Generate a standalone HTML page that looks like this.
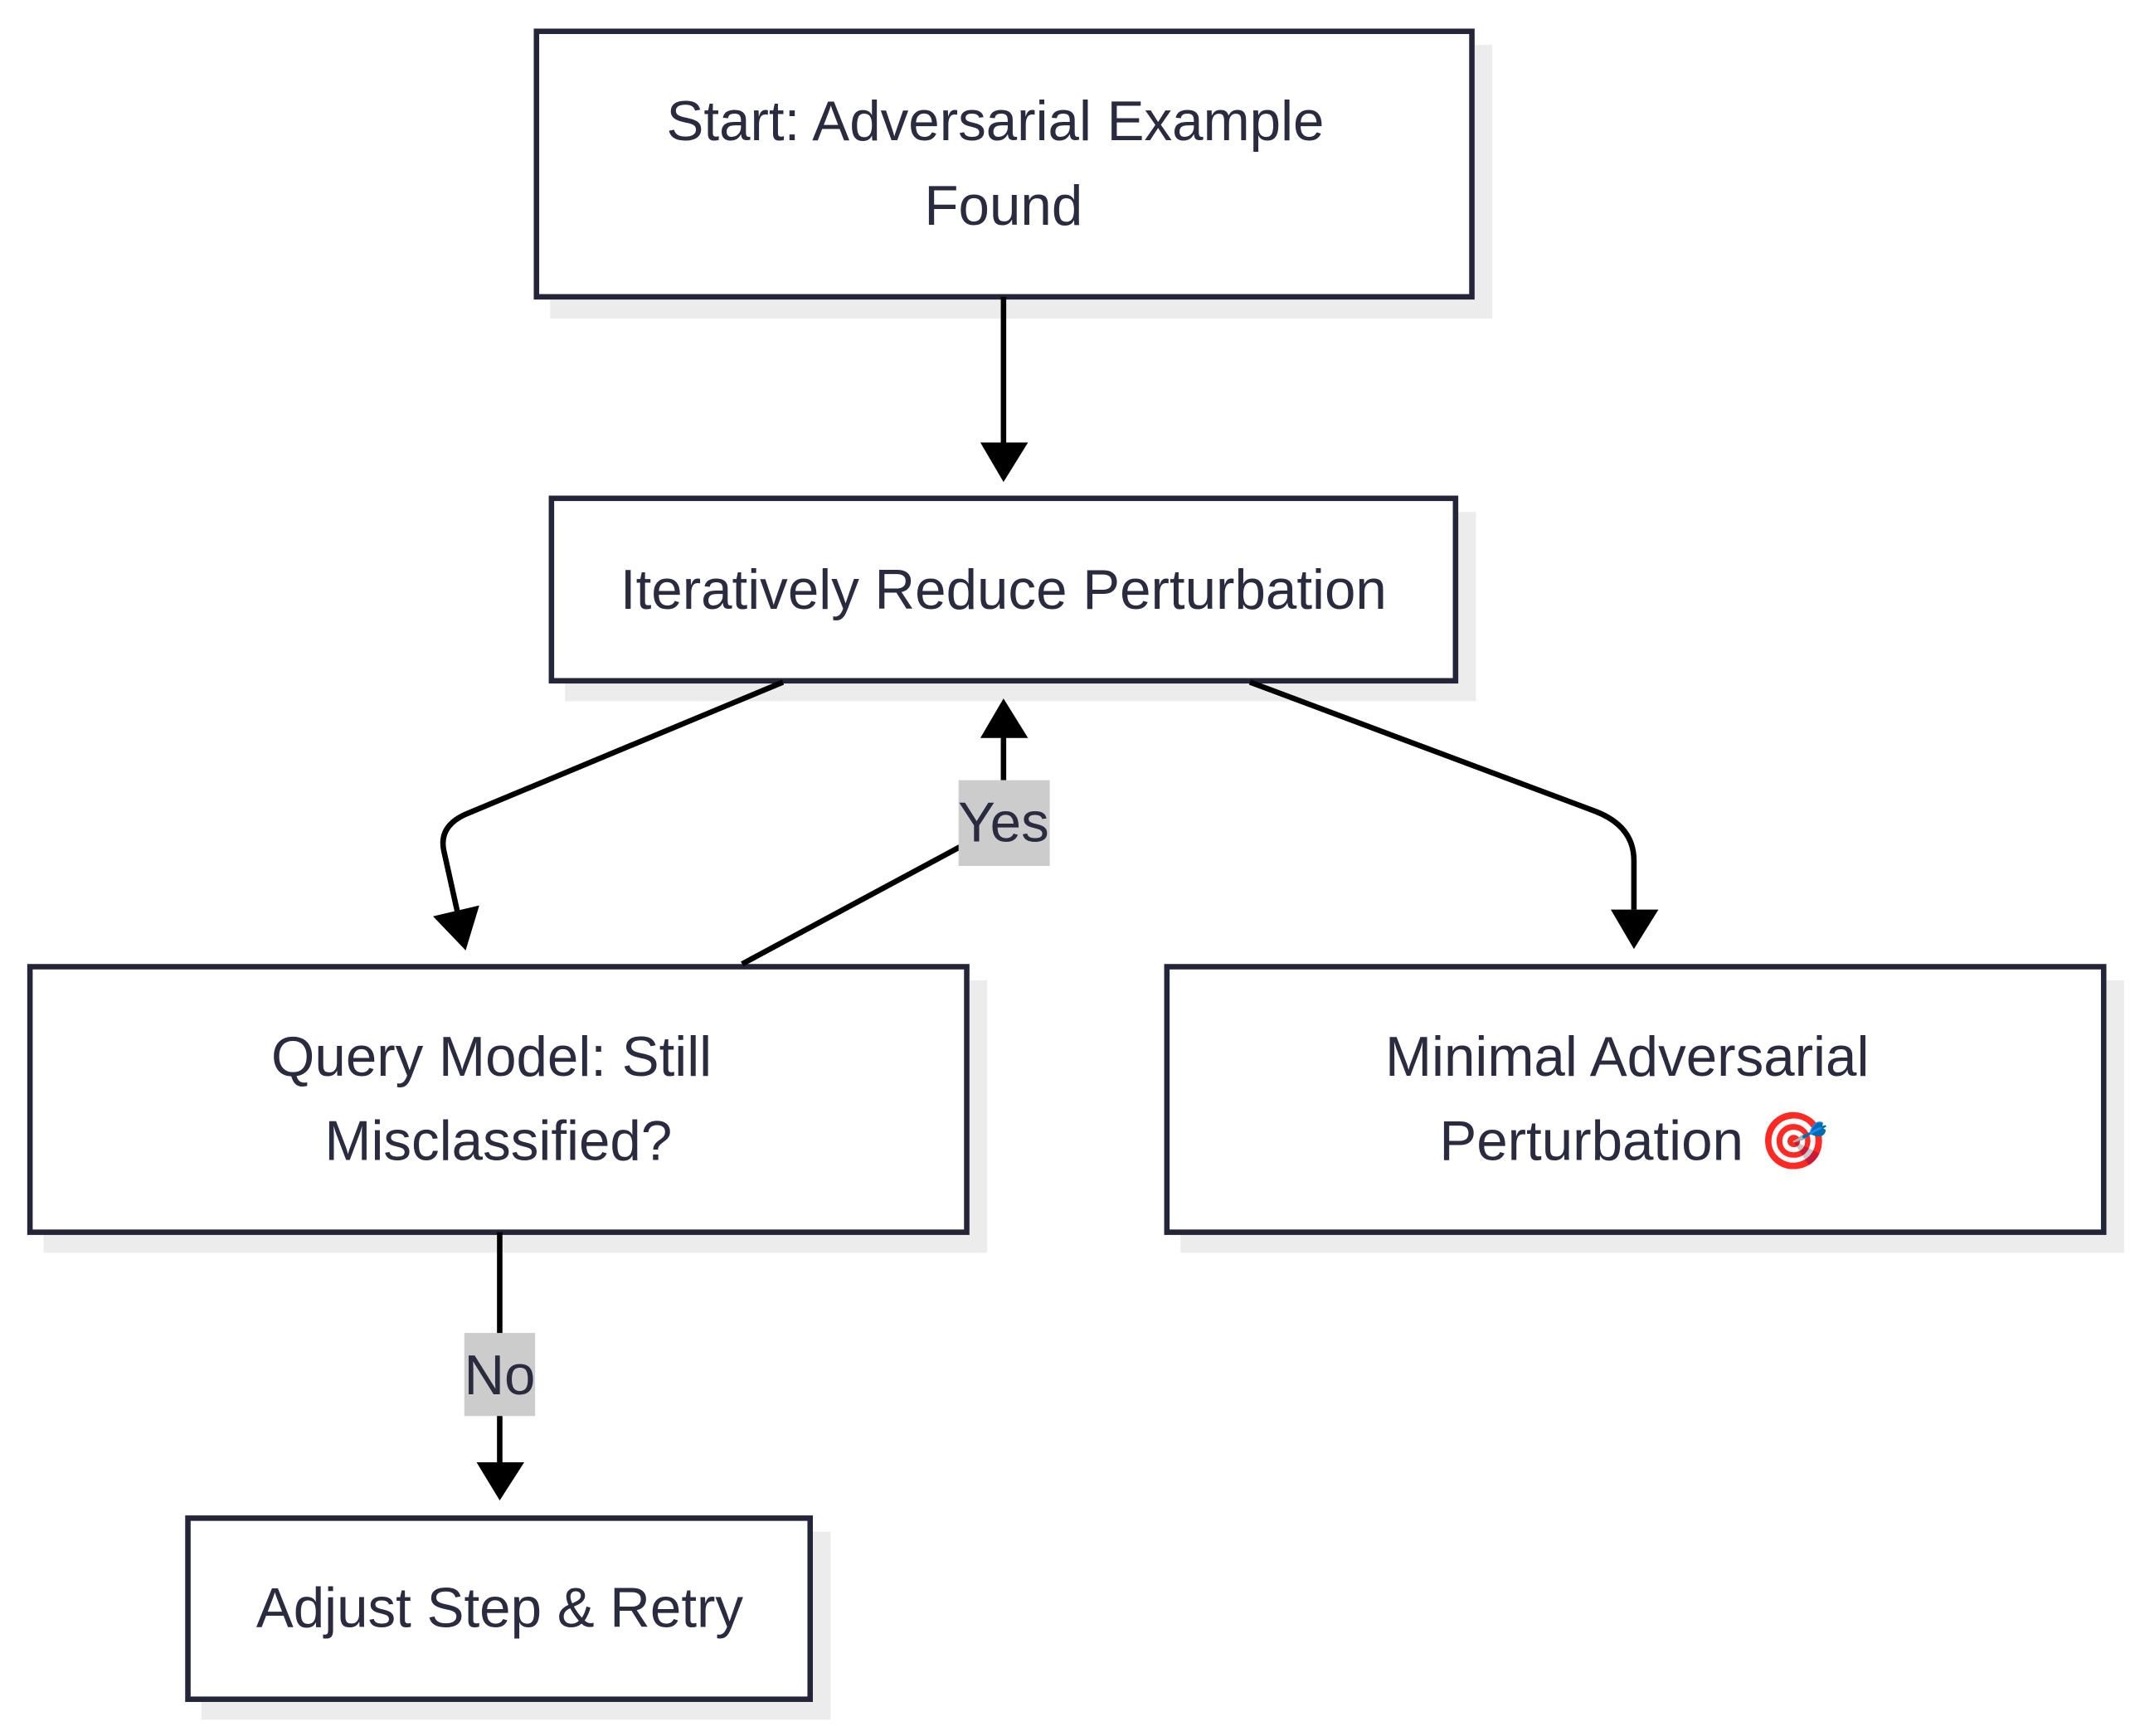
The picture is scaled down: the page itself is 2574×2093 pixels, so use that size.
<!DOCTYPE html>
<html><head><meta charset="utf-8"><style>
html,body{margin:0;padding:0;background:#fff;}
svg{display:block;}
text{font-family:"Liberation Sans",Arial,sans-serif;font-size:41px;fill:#2b2b40;}
</style></head><body>
<svg width="2574" height="2093" viewBox="0 0 1568 1275" xmlns="http://www.w3.org/2000/svg">
<g fill="#ececec">
<rect x="404" y="33" width="692" height="201"/>
<rect x="415" y="376" width="669" height="139"/>
<rect x="32" y="720" width="693" height="200"/>
<rect x="867" y="720" width="693" height="200"/>
<rect x="148" y="1125" width="462" height="138"/>
</g>
<g fill="#fff" stroke="#25253a" stroke-width="4">
<rect x="394" y="23" width="687" height="195"/>
<rect x="405" y="366" width="664" height="134"/>
<rect x="22" y="710" width="688" height="195"/>
<rect x="857" y="710" width="688" height="195"/>
<rect x="138" y="1115" width="457" height="133"/>
</g>
<g fill="none" stroke="#000" stroke-width="4">
<line x1="737" y1="218" x2="737" y2="326"/>
<path d="M575 501 L342 598 Q322 607 326 625 L336 670"/>
<path d="M918 501 L1172 596 Q1200 607 1200 632 L1200 668"/>
<path d="M545 708 L705 622"/>
<line x1="737" y1="573" x2="737" y2="540"/>
<line x1="367" y1="905" x2="367" y2="1075"/>
</g>
<g fill="#000">
<polygon points="720,325 755,325 737,354"/>
<polygon points="318,673 352,665 342,698"/>
<polygon points="1183,668 1218,668 1200,697"/>
<polygon points="720,542 755,542 737,513"/>
<polygon points="350,1074 385,1074 367,1102"/>
</g>
<rect x="704" y="573" width="67" height="63" fill="#cccccc"/>
<rect x="341" y="979" width="52" height="61" fill="#cccccc"/>
<g text-anchor="middle">
<text x="737" y="618">Yes</text>
<text x="367" y="1024">No</text>
<text x="731" y="103">Start: Adversarial Example</text>
<text x="737" y="165">Found</text>
<text x="737" y="447">Iteratively Reduce Perturbation</text>
<text x="361" y="790">Query Model: Still</text>
<text x="366" y="852">Misclassified?</text>
<text x="1195" y="790">Minimal Adversarial</text>
<text x="1200" y="852">Perturbation <tspan font-family="'Noto Color Emoji','DejaVu Sans',sans-serif" fill="#e0303a">🎯</tspan></text>
<text x="367" y="1195">Adjust Step &amp; Retry</text>
</g>
</svg>
</body></html>
